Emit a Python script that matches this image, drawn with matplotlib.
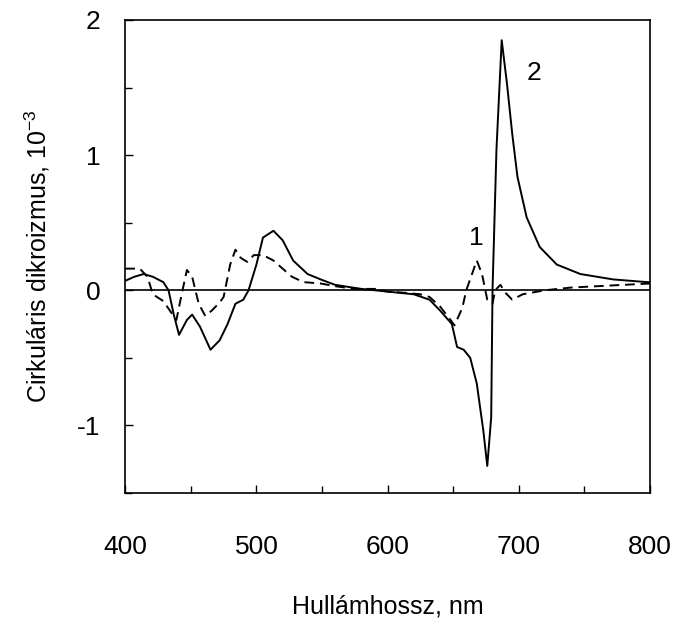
import matplotlib.pyplot as plt
import numpy as np
from matplotlib.ticker import MultipleLocator

plt.rcParams["font.family"] = ["Liberation Sans", "DejaVu Sans"]
plt.rcParams["axes.unicode_minus"] = False

# curve 2 (solid)
wl_2 = np.array([400, 407, 414, 421, 429, 433, 437, 441, 447, 451, 457, 465, 472,
                 478, 484, 490, 494, 500, 505, 513, 520, 528, 539, 549, 560, 580,
                 590, 600, 610, 620, 632, 640, 649, 653, 658, 663, 668, 673, 676,
                 679, 680, 683, 687, 691, 695, 699, 706, 716, 729, 747, 772, 798, 800])
cd_2 = np.array([0.07, 0.1, 0.12, 0.1, 0.06, 0.0, -0.18, -0.33, -0.22, -0.18, -0.27,
                 -0.44, -0.37, -0.25, -0.1, -0.07, 0.0, 0.19, 0.39, 0.44, 0.37, 0.22,
                 0.12, 0.08, 0.04, 0.01, 0.0, -0.01, -0.02, -0.03, -0.07, -0.15, -0.25,
                 -0.42, -0.44, -0.5, -0.69, -1.04, -1.3, -0.94, 0.0, 1.04, 1.85, 1.53,
                 1.16, 0.84, 0.54, 0.32, 0.19, 0.12, 0.08, 0.06, 0.06])

# curve 1 (dashed)
wl_1 = np.array([400, 411, 417, 421, 429, 434, 439, 443, 447, 451, 456, 461, 466,
                 472, 475, 480, 484, 488, 493, 498, 505, 513, 520, 527, 536, 549,
                 560, 575, 590, 600, 615, 625, 632, 640, 648, 651, 657, 660, 668,
                 672, 676, 680, 682, 686, 690, 695, 703, 720, 740, 760, 780, 800])
cd_1 = np.array([0.16, 0.16, 0.1, -0.03, -0.08, -0.15, -0.22, -0.03, 0.15, 0.1,
                 -0.1, -0.19, -0.15, -0.09, -0.05, 0.19, 0.3, 0.24, 0.21, 0.26, 0.26,
                 0.22, 0.16, 0.1, 0.06, 0.05, 0.03, 0.01, 0.01, -0.01, -0.02, -0.03,
                 -0.05, -0.12, -0.22, -0.26, -0.13, 0.0, 0.22, 0.12, -0.07, -0.1, 0.0,
                 0.04, -0.02, -0.07, -0.03, 0.0, 0.02, 0.03, 0.04, 0.05])

fig = plt.figure(figsize=(6.77, 6.24), dpi=100)
ax = fig.add_axes([0.185, 0.21, 0.775, 0.758])

ax.axhline(0, color="black", lw=1.2)
ax.plot(wl_2, cd_2, color="black", lw=1.4)
ax.plot(wl_1, cd_1, color="black", lw=1.4, ls=(0, (5, 3)))

ax.text(668, 0.39, "1", fontsize=19, ha="center", va="center")
ax.text(712, 1.61, "2", fontsize=19, ha="center", va="center")

ax.set_xlim(400, 800)
ax.set_ylim(-1.5, 2)
ax.xaxis.set_major_locator(MultipleLocator(100))
ax.xaxis.set_minor_locator(MultipleLocator(50))
ax.yaxis.set_major_locator(MultipleLocator(1))
ax.yaxis.set_minor_locator(MultipleLocator(0.5))
ax.tick_params(which="both", direction="in", top=False, right=False, width=1)
ax.tick_params(which="major", length=6, labelsize=19)
ax.tick_params(which="minor", length=5)
ax.tick_params(axis="x", which="major", pad=30)
ax.tick_params(axis="y", which="major", pad=18)
for s in ax.spines.values():
    s.set_linewidth(1.2)

ax.set_xlabel("Hullámhossz, nm", fontsize=18, labelpad=26)
ax.set_ylabel("Cirkuláris dikroizmus, 10$^{\\mathregular{-3}}$", fontsize=18, labelpad=18)

fig.savefig("out.png")
